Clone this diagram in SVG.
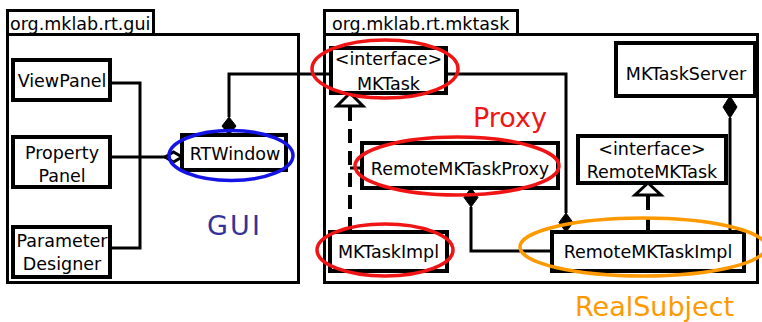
<svg xmlns="http://www.w3.org/2000/svg" width="762" height="322" viewBox="0 0 762 322">
<style>
.pkg{fill:#fff;stroke:#000;stroke-width:3}
.box{fill:#fff;stroke:#000;stroke-width:4}
.t{font-family:"DejaVu Sans","Liberation Sans",sans-serif;font-size:17.5px;fill:#000}
.m{text-anchor:middle}
.ln{fill:none;stroke:#000;stroke-width:3}
.dash{fill:none;stroke:#000;stroke-width:4;stroke-dasharray:14 8}
.fd{fill:#000;stroke:#000;stroke-width:1}
.hd{fill:#fff;stroke:#000;stroke-width:3}
.hl{fill:none;stroke-width:3.5}
.big{font-family:"DejaVu Sans","Liberation Sans",sans-serif;font-size:27px}
</style>
<rect width="762" height="322" fill="#fff"/>
<g id="pkg-gui">
<rect class="pkg" x="7.5" y="10.5" width="146" height="24"/>
<rect class="pkg" x="7.5" y="34.5" width="291" height="248"/>
<text class="t" x="10" y="30">org.mklab.rt.gui</text>
</g>
<g id="pkg-mktask">
<rect class="pkg" x="324.5" y="10.5" width="193" height="24"/>
<rect class="pkg" x="324.5" y="34.5" width="433" height="248"/>
<text class="t" x="332" y="30">org.mklab.rt.mktask</text>
</g>
<g id="connectors">
<polyline class="ln" points="110,83 140,83 140,248 110,248"/>
<line class="ln" x1="110" y1="157" x2="165" y2="157"/>
<polygon class="hd" points="165,157 173.5,152 182,157 173.5,162"/>
<polyline class="ln" points="229,117 229,74 331,74"/>
<polygon class="fd" points="229,117 236,126 229,135 222,126"/>
<polyline class="ln" points="446,74 566,74 566,213"/>
<polygon class="fd" points="566,213 573,222.5 566,232 559,222.5"/>
<polyline class="ln" points="471,207 471,251 552,251"/>
<polygon class="fd" points="471,188 478,197.5 471,207 464,197.5"/>
<line class="ln" x1="730" y1="118" x2="730" y2="232"/>
<polygon class="fd" points="730,96 737,107 730,118 723,107"/>
<line class="dash" x1="350" y1="107" x2="350" y2="232"/>
<polygon class="hd" points="350,93 363,106 337,106"/>
<line class="ln" x1="350" y1="168" x2="362" y2="168"/>
<line class="dash" x1="648" y1="196" x2="648" y2="232"/>
<polygon class="hd" points="648,183 661,195 635,195"/>
</g>
<g id="ViewPanel">
<rect class="box" x="13" y="60" width="97" height="40"/>
<text class="t m" x="62" y="87">ViewPanel</text>
</g>
<g id="PropertyPanel">
<rect class="box" x="13" y="137" width="97" height="50"/>
<text class="t m" x="62" y="159">Property</text>
<text class="t m" x="62" y="182">Panel</text>
</g>
<g id="ParameterDesigner">
<rect class="box" x="13" y="227" width="97" height="50"/>
<text class="t m" x="62" y="247">Parameter</text>
<text class="t m" x="62" y="270">Designer</text>
</g>
<g id="RTWindow">
<rect class="box" x="182" y="135" width="104" height="35"/>
<text class="t m" x="235" y="160">RTWindow</text>
</g>
<g id="MKTask">
<rect class="box" x="331" y="48" width="115" height="45"/>
<text class="t m" x="388.5" y="65">&lt;interface&gt;</text>
<text class="t m" x="388.5" y="90">MKTask</text>
</g>
<g id="RemoteMKTaskProxy">
<rect class="box" x="362" y="143" width="196" height="45"/>
<text class="t m" x="460" y="175">RemoteMKTaskProxy</text>
</g>
<g id="MKTaskImpl">
<rect class="box" x="330" y="232" width="117" height="39"/>
<text class="t m" x="388.5" y="258">MKTaskImpl</text>
</g>
<g id="MKTaskServer">
<rect class="box" x="616" y="43" width="139" height="53"/>
<text class="t m" x="686" y="80">MKTaskServer</text>
</g>
<g id="RemoteMKTask">
<rect class="box" x="578" y="136" width="148" height="47"/>
<text class="t m" x="652" y="155">&lt;interface&gt;</text>
<text class="t m" x="652" y="178">RemoteMKTask</text>
</g>
<g id="RemoteMKTaskImpl">
<rect class="box" x="552" y="232" width="192" height="39"/>
<text class="t m" x="648" y="258">RemoteMKTaskImpl</text>
</g>
<g id="highlights">
<ellipse class="hl" stroke="#1414e6" cx="231" cy="155.5" rx="62" ry="25"/>
<ellipse class="hl" stroke="#f01414" cx="385" cy="69" rx="73" ry="29"/>
<ellipse class="hl" stroke="#f01414" cx="457" cy="166" rx="102" ry="29"/>
<ellipse class="hl" stroke="#f01414" cx="385" cy="250" rx="68" ry="26"/>
<ellipse class="hl" stroke="#ff9900" cx="643" cy="247" rx="123" ry="29"/>
</g>
<g id="labels">
<text class="big" x="207" y="235" fill="#333399" textLength="53" lengthAdjust="spacing">GUI</text>
<text class="big" x="473" y="127" fill="#f01414">Proxy</text>
<text class="big" x="575" y="316" fill="#ff9900">RealSubject</text>
</g>
</svg>
